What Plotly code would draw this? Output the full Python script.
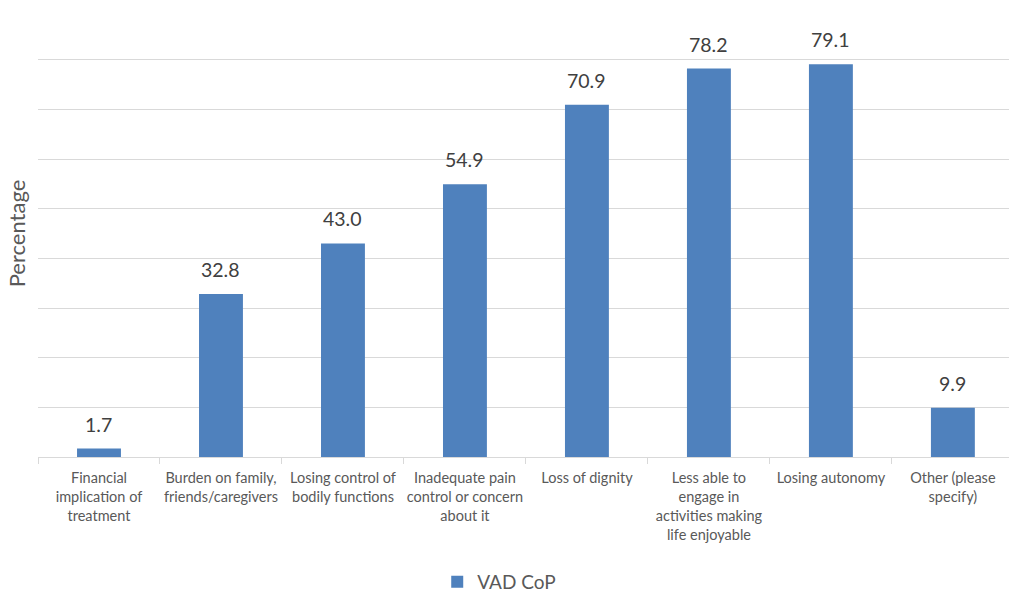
import plotly.graph_objects as go

categories = [
    "Financial<br>implication of<br>treatment",
    "Burden on family,<br>friends/caregivers",
    "Losing control of<br>bodily functions",
    "Inadequate pain<br>control or concern<br>about it",
    "Loss of dignity",
    "Less able to<br>engage in<br>activities making<br>life enjoyable",
    "Losing autonomy",
    "Other (please<br>specify)",
]
values = [1.7, 32.8, 43.0, 54.9, 70.9, 78.2, 79.1, 9.9]
series_name = "VAD CoP"

FONT = "Lato, 'Open Sans', sans-serif"

fig = go.Figure(
    go.Bar(
        x=categories,
        y=values,
        name=series_name,
        marker=dict(color="#4F81BD", line=dict(width=0)),
        width=0.36,
        showlegend=True,
    )
)

for c, v in zip(categories, values):
    fig.add_annotation(
        x=c, y=v, text=f"{v:.1f}", showarrow=False,
        yanchor="bottom", yshift=11,
        font=dict(size=19.5, color="#404040", family=FONT),
    )

fig.update_layout(
    width=1009,
    height=593,
    margin=dict(l=38, r=0, t=10, b=136, autoexpand=False),
    plot_bgcolor="white",
    paper_bgcolor="white",
    font=dict(family=FONT, color="#595959", size=15),
    legend=dict(
        orientation="h",
        x=0.475,
        xanchor="center",
        y=-0.237,
        yanchor="top",
        font=dict(size=19, color="#595959", family=FONT),
        itemwidth=30,
    ),
    xaxis=dict(
        range=[-0.5, 7.46],
        tickson="boundaries",
        ticks="outside",
        ticklen=6,
        tickcolor="#D9D9D9",
        showline=True,
        linecolor="#D9D9D9",
        linewidth=1,
        tickfont=dict(size=14.5, color="#595959", family=FONT),
        tickangle=0,
        automargin=False,
        ticklabelstandoff=8,
    ),
    yaxis=dict(
        range=[0, 90],
        dtick=10,
        showgrid=True,
        gridcolor="#D9D9D9",
        gridwidth=1,
        showticklabels=False,
        zeroline=False,
        automargin=False,
        title=dict(text="Percentage", font=dict(size=22, color="#595959", family=FONT), standoff=5),
    ),
)

fig.write_html("out.html")
